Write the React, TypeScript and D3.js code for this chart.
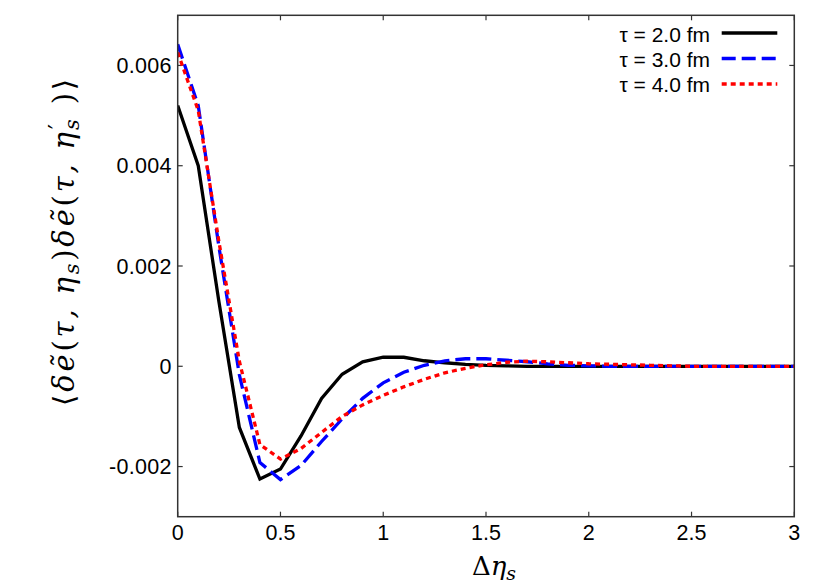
import React from "react";
import * as d3 from "d3";

const eta = [0, 0.1, 0.2, 0.3, 0.4, 0.5, 0.6, 0.7, 0.8, 0.9, 1.0, 1.1, 1.2, 1.3, 1.4, 1.5, 1.6, 1.7, 1.8, 1.9, 2.0, 2.1, 2.2, 2.3, 2.4, 2.5, 2.6, 2.7, 2.8, 2.9, 3.0];

const tau2 = [0.0052, 0.0040, 0.0013, -0.00122, -0.00225, -0.00205, -0.00139, -0.00064, -0.00016, 0.00009, 0.00018, 0.00018, 0.00011, 0.00007, 0.00004, 0.00002, 0.00001, 0, 0, 0, 0, 0, 0, 0, 0, 0, 0, 0, 0, 0, 0];
const tau3 = [0.00642, 0.0052, 0.0024, -0.00017, -0.00192, -0.00226, -0.00198, -0.0015, -0.00105, -0.00064, -0.00033, -0.00012, 0.00002, 0.00011, 0.00015, 0.00015, 0.00012, 0.00009, 0.00005, 0.00002, 0.00001, 0, 0, 0, 0, 0, 0, 0, 0, 0, 0];
const tau4 = [0.00626, 0.0051, 0.0025, 0.0001, -0.00156, -0.00185, -0.00164, -0.00132, -0.001, -0.00077, -0.00058, -0.00041, -0.00026, -0.00013, -0.00004, 0.00003, 0.00008, 0.0001, 0.00009, 0.00007, 0.00005, 0.00004, 0.00003, 0.00002, 0.00001, 0, 0, 0, 0, 0, 0];

const xTicks = [0, 0.5, 1, 1.5, 2, 2.5, 3];
const xTickLabels = ["0", "0.5", "1", "1.5", "2", "2.5", "3"];
const yTicks = [-0.002, 0, 0.002, 0.004, 0.006];
const yTickLabels = ["-0.002", "0", "0.002", "0.004", "0.006"];

const seriesNames = ["τ = 2.0 fm", "τ = 3.0 fm", "τ = 4.0 fm"];
const seriesColors = ["#000000", "#0000ff", "#ff0000"];
const seriesDash = ["none", "15,6", "5,4"];

const W = 830;
const H = 587;
const L = 177.7, R = 794.3, T = 15.3, B = 516.7;

export default function App() {
  const x = d3.scaleLinear().domain([0, 3]).range([L, R]);
  const y = d3.scaleLinear().domain([-0.003, 0.007]).range([B, T]);
  const series = [tau2, tau3, tau4];
  const line = d3
    .line<number>()
    .x((_, i) => x(eta[i]))
    .y((d) => y(d));
  const axisColor = "#333";
  const tickLen = 5;
  const sans = "'Liberation Sans', Arial, sans-serif";
  const serif = "'DejaVu Serif', 'Liberation Serif', serif";

  return (
    <div style={{ position: "absolute", left: 0, top: 0 }}>
      <svg width={W} height={H} style={{ display: "block", background: "#fff" }}>
        <defs>
          <clipPath id="plotclip">
            <rect x={L} y={T} width={R - L} height={B - T} />
          </clipPath>
        </defs>
        {xTicks.map((t, i) => (
          <g key={"xt" + i}>
            <line x1={x(t)} x2={x(t)} y1={B} y2={B - tickLen} stroke={axisColor} strokeWidth={1.2} />
            <line x1={x(t)} x2={x(t)} y1={T} y2={T + tickLen} stroke={axisColor} strokeWidth={1.2} />
            <text x={x(t)} y={540} textAnchor="middle" fontFamily={sans} fontSize={21.5} fill="#000">
              {xTickLabels[i]}
            </text>
          </g>
        ))}
        {yTicks.map((t, i) => (
          <g key={"yt" + i}>
            <line x1={L} x2={L + tickLen} y1={y(t)} y2={y(t)} stroke={axisColor} strokeWidth={1.2} />
            <line x1={R} x2={R - tickLen} y1={y(t)} y2={y(t)} stroke={axisColor} strokeWidth={1.2} />
            <text x={171.7} y={y(t) + 7.6} textAnchor="end" fontFamily={sans} fontSize={21.5} fill="#000" letterSpacing={0.3}>
              {yTickLabels[i]}
            </text>
          </g>
        ))}
        <g clipPath="url(#plotclip)">
          {series.map((s, k) => (
            <path
              key={"s" + k}
              d={line(s) || ""}
              fill="none"
              stroke={seriesColors[k]}
              strokeWidth={3.3}
              strokeDasharray={seriesDash[k]}
              strokeLinejoin="miter"
            />
          ))}
        </g>
        <rect x={L} y={T} width={R - L} height={B - T} fill="none" stroke={axisColor} strokeWidth={1.5} />
        {seriesNames.map((n, k) => (
          <g key={"lg" + k}>
            <text x={710} y={41.7 + k * 25.2} textAnchor="end" fontFamily={sans} fontSize={21} fill="#000">
              {n}
            </text>
            <line
              x1={721.7}
              x2={777.3}
              y1={33 + k * 25.5}
              y2={33 + k * 25.5}
              stroke={seriesColors[k]}
              strokeWidth={3.3}
              strokeDasharray={k === 1 ? "14,6" : seriesDash[k]}
            />
          </g>
        ))}
        <text x={494} y={575} textAnchor="middle" fontFamily={serif} fontSize={26} fill="#000">
          <tspan>Δ</tspan>
          <tspan fontStyle="italic">η</tspan>
          <tspan fontStyle="italic" fontSize={19} dy={5}>s</tspan>
        </text>
        <text
          transform={`translate(74,241) rotate(-90)`}
          textAnchor="middle"
          fontFamily={serif}
          fontSize={29}
          fontStyle="italic"
          letterSpacing={2.8}
          fill="#000"
        >
          <tspan fontStyle="normal">⟨</tspan>
          <tspan>δẽ</tspan>
          <tspan fontStyle="normal">(</tspan>
          <tspan>τ, η</tspan>
          <tspan fontSize={21} dy={5}>s</tspan>
          <tspan fontStyle="normal" dy={-5}>)</tspan>
          <tspan>δẽ</tspan>
          <tspan fontStyle="normal">(</tspan>
          <tspan>τ, η</tspan>
          <tspan fontStyle="normal" fontSize={24} dy={-8}>′</tspan>
          <tspan fontSize={21} dy={13} dx={-9}>s</tspan>
          <tspan fontStyle="normal" dy={-5}> )</tspan>
          <tspan fontStyle="normal">⟩</tspan>
        </text>
      </svg>
    </div>
  );
}
